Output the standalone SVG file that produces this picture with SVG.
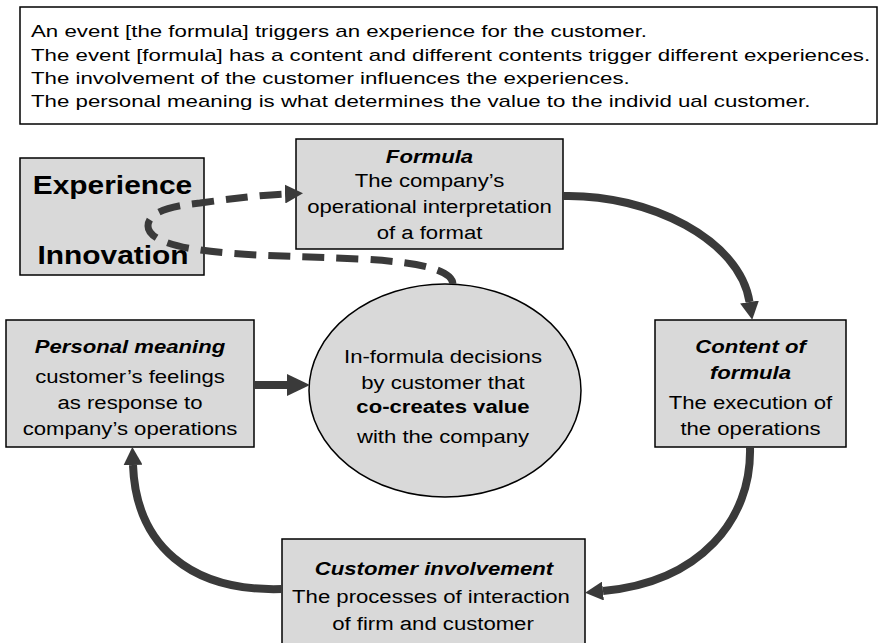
<svg xmlns="http://www.w3.org/2000/svg" width="880" height="643" viewBox="0 0 880 643">
<style>
.box{fill:#d9d9d9;stroke:#000;stroke-width:1.5}
.note{fill:#fff;stroke:#000;stroke-width:1.5}
.t{font-family:"Liberation Sans",Arial,sans-serif;font-size:19px;fill:#000;text-anchor:middle}
.b{font-weight:bold}
.bi{font-weight:bold;font-style:italic}
.big{font-size:26px;font-weight:bold}
.top{font-family:"Liberation Sans",Arial,sans-serif;font-size:17px;fill:#000}
.con{fill:none;stroke:#3a3a3a;stroke-width:8}
.dash{fill:none;stroke:#3a3a3a;stroke-width:7;stroke-dasharray:22 12}
</style>
<defs>
<marker id="ah" viewBox="0 0 18 19" refX="0" refY="9.5" markerWidth="18" markerHeight="19" markerUnits="userSpaceOnUse" orient="auto"><path d="M0,0 L18,9.5 L0,19 Z" fill="#3a3a3a"/></marker>
<marker id="ahb" viewBox="0 0 23 22" refX="0" refY="11" markerWidth="23" markerHeight="22" markerUnits="userSpaceOnUse" orient="auto"><path d="M0,0 L23,11 L0,22 Z" fill="#3a3a3a"/></marker>
</defs>
<g id="note">
<rect class="note" x="20" y="7" width="857" height="117"/>
<text class="top" transform="translate(31,37) scale(1.31,1)">An event [the formula] triggers an experience for the customer.</text>
<text class="top" transform="translate(31,61) scale(1.31,1)">The event [formula] has a content and different contents trigger different experiences.</text>
<text class="top" transform="translate(31,84) scale(1.31,1)">The involvement of the customer influences the experiences.</text>
<text class="top" transform="translate(31,107) scale(1.31,1)">The personal meaning is what determines the value to the individ ual customer.</text>
</g>
<g id="experience-innovation">
<rect class="box" x="20" y="158" width="184" height="117"/>
<text class="t big" transform="translate(112.5,194) scale(1.15,1)">Experience</text>
<text class="t big" transform="translate(113,264) scale(1.15,1)">Innovation</text>
</g>
<g id="formula">
<rect class="box" x="296" y="139" width="267" height="110"/>
<text class="t bi" transform="translate(429.5,163) scale(1.165,1)">Formula</text>
<text class="t" transform="translate(429.5,187) scale(1.165,1)">The company’s</text>
<text class="t" transform="translate(429.5,213) scale(1.165,1)">operational interpretation</text>
<text class="t" transform="translate(429.5,239) scale(1.165,1)">of a format</text>
</g>
<g id="content">
<rect class="box" x="655" y="320" width="191" height="127"/>
<text class="t bi" transform="translate(750.5,353) scale(1.165,1)">Content of</text>
<text class="t bi" transform="translate(750.5,379) scale(1.165,1)">formula</text>
<text class="t" transform="translate(750.5,409) scale(1.165,1)">The execution of</text>
<text class="t" transform="translate(750.5,435) scale(1.165,1)">the operations</text>
</g>
<g id="involvement">
<rect class="box" x="282" y="539" width="303" height="115"/>
<text class="t bi" transform="translate(434,575) scale(1.165,1)">Customer involvement</text>
<text class="t" transform="translate(431,603) scale(1.165,1)">The processes of interaction</text>
<text class="t" transform="translate(433,630) scale(1.165,1)">of firm and customer</text>
</g>
<g id="personal">
<rect class="box" x="6" y="320" width="248" height="127"/>
<text class="t bi" transform="translate(130,353) scale(1.165,1)">Personal meaning</text>
<text class="t" transform="translate(130,383) scale(1.165,1)">customer’s feelings</text>
<text class="t" transform="translate(130,409) scale(1.165,1)">as response to</text>
<text class="t" transform="translate(130,435) scale(1.165,1)">company’s operations</text>
</g>
<g id="decisions">
<ellipse class="box" cx="445" cy="390.5" rx="136" ry="106.5"/>
<text class="t" transform="translate(443,363) scale(1.165,1)">In-formula decisions</text>
<text class="t" transform="translate(443,389) scale(1.165,1)">by customer that</text>
<text class="t b" transform="translate(443,413) scale(1.165,1)">co-creates value</text>
<text class="t" transform="translate(443,443) scale(1.165,1)">with the company</text>
</g>
<g id="connectors">
<path class="con" d="M563,196 C650,194 740,240 749.5,302" marker-end="url(#ah)"/>
<path class="con" d="M750,447 C752,520 700,582 603,591" marker-end="url(#ah)"/>
<path class="con" d="M282,589 C190,592 136,545 133,465" marker-end="url(#ah)"/>
<path class="con" d="M254,385 L287,385" marker-end="url(#ahb)"/>
<path class="dash" d="M453,284 C452,270 420,262 360,259 C300,256 240,256 200,250 C170,246 148,238 148,226 C148,212 170,206 200,203 C230,199 260,195 285,194" marker-end="url(#ah)"/>
</g>
</svg>
